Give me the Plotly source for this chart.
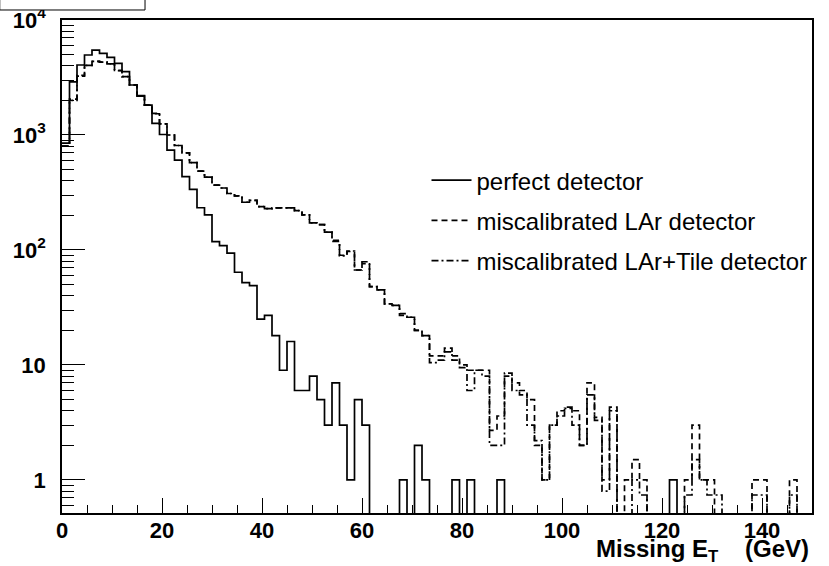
import numpy as np
import plotly.graph_objects as go

# ---- data (histograms, 100 bins of 1.5 GeV from 0 to 150 GeV) ----
bin_width = 1.5
n_bins = 100

perfect = [850, 2900, 4060, 4960, 5480, 5130, 4740, 4200, 3550, 2720,
           2200, 1820, 1260, 1010, 740, 605, 434, 337, 233, 202,
           118, 109, 94, 64, 52, 49, 25, 27, 18, 9,
           16, 6, 6, 8, 5, 3, 7, 3, 1, 5,
           3, 0, 0, 0, 0, 1, 0, 2, 1, 0,
           0, 0, 1, 0, 1, 0, 0, 0, 1, 0,
           0, 0, 0, 0, 0, 0, 0, 0, 0, 0,
           0, 0, 0, 0, 0, 0, 0, 0, 0, 0,
           0, 1, 0, 0, 0, 0, 0, 0, 0, 0,
           0, 0, 0, 0, 0, 0, 0, 0, 0, 0]

lar = [800, 2050, 3300, 4030, 4370, 4300, 4150, 3620, 3220, 2720,
       2180, 1820, 1530, 1250, 1000, 810, 700, 575, 485, 430,
       367, 346, 310, 295, 260, 270, 238, 229, 232, 232,
       232, 220, 202, 172, 166, 143, 121, 90, 97, 67,
       76, 48, 45, 34, 33, 28, 26, 20, 18, 12,
       12, 14, 12, 10, 9, 9, 9, 2.7, 3.6, 8,
       7, 6, 5, 2, 1, 3, 4, 4.3, 4, 2,
       7, 3.5, 1, 4.3, 0, 1, 1.5, 1, 0, 0,
       0, 0, 0, 1, 3, 1, 1, 0, 0, 0,
       0, 0, 1, 1, 0, 0, 0, 1, 0, 0]

lartile = [800, 2000, 3250, 4030, 4370, 4300, 4150, 3650, 3220, 2720,
           2180, 1820, 1540, 1250, 1000, 810, 700, 575, 485, 430,
           367, 346, 310, 295, 260, 270, 238, 229, 232, 232,
           232, 220, 202, 172, 166, 143, 119, 89, 98, 67,
           79, 48, 45, 34, 33, 27, 26, 20, 18, 10.5,
           11, 13, 11, 9.5, 6, 9, 8, 2, 2, 8.5,
           6, 5.5, 3, 2.2, 1, 3, 3.6, 4.2, 3, 2,
           5.5, 3.3, 0.8, 4, 0, 0, 1, 0.74, 0, 0,
           0, 0, 0, 0.74, 1.5, 1, 0.74, 0.74, 0, 0,
           0, 0, 0.74, 0.74, 0, 0, 0, 0.74, 0, 0]

series_names = ["perfect detector", "miscalibrated LAr detector",
                "miscalibrated LAr+Tile detector"]
x_ticks = [0, 20, 40, 60, 80, 100, 120, 140]
y_ticks = [1, 10, 100, 1000, 10000]
y_tick_text = ["1", "10", "10<sup>2</sup>", "10<sup>3</sup>", "10<sup>4</sup>"]

# ---- figure ----
edges = np.arange(n_bins + 1) * bin_width


def step_y(vals):
    v = np.asarray(vals, dtype=float)
    v = np.where(v > 0, v, 1e-3)   # empty bins drop to the axis floor
    return np.append(v, v[-1])


dashes = ["solid", "6px,4px", "7px,3px,2px,3px"]
fig = go.Figure()
for name, vals, dash in zip(series_names, [perfect, lar, lartile], dashes):
    fig.add_trace(go.Scatter(
        x=edges, y=step_y(vals), mode="lines", name=name,
        legendgroup=name, hoverinfo="skip",
        line=dict(shape="hv", color="black", width=1.7, dash=dash),
    ))

FONT = "Liberation Sans, Arial, Helvetica, sans-serif"
tick_font = dict(family=FONT, size=22, color="black", weight="bold")

fig.update_layout(
    template="none",
    width=829, height=566,
    margin=dict(l=62, r=17, t=20, b=53, autoexpand=False),
    paper_bgcolor="white", plot_bgcolor="white",
    showlegend=True,
    legend=dict(x=0.486, y=0.72, xanchor="left", yanchor="top",
                bgcolor="rgba(0,0,0,0)", borderwidth=0,
                tracegroupgap=6, itemwidth=40,
                font=dict(family=FONT, size=24, color="black")),
    xaxis=dict(range=[0, 150], tickvals=x_ticks, automargin=False,
               ticks="inside", ticklen=15, tickwidth=1.3, tickcolor="black",
               showline=True, linecolor="black", linewidth=1.8, mirror=True,
               showgrid=False, zeroline=False, tickfont=tick_font,
               ticklabelstandoff=-3,
               minor=dict(ticks="inside", ticklen=8, dtick=5,
                          tickcolor="black", tickwidth=1.2, showgrid=False)),
    yaxis=dict(type="log", range=[np.log10(0.516), 4], automargin=False,
               tickvals=y_ticks, ticktext=y_tick_text,
               ticks="inside", ticklen=23, tickwidth=1.3, tickcolor="black",
               showline=True, linecolor="black", linewidth=1.8, mirror=True,
               showgrid=False, zeroline=False, tickfont=tick_font,
               ticklabelstandoff=10,
               minor=dict(ticks="inside", ticklen=12, dtick="D1",
                          tickcolor="black", tickwidth=1.2, showgrid=False)),
)

fig.add_annotation(
    text="Missing E<sub>T</sub>    (GeV)", xref="paper", yref="paper",
    x=0.998, y=-0.04, xanchor="right", yanchor="top", showarrow=False,
    font=dict(family=FONT, size=24, color="black", weight="bold"))

# clipped title box at top-left corner
fig.add_shape(type="rect", xref="paper", yref="paper",
              x0=-0.083, x1=0.1107, y0=1.0203, y1=1.06,
              line=dict(color="black", width=1), fillcolor="white")

fig.write_html("out.html", config={"displayModeBar": False},
               post_script="document.body.style.margin='0';"
                           "document.body.style.overflow='hidden';")
